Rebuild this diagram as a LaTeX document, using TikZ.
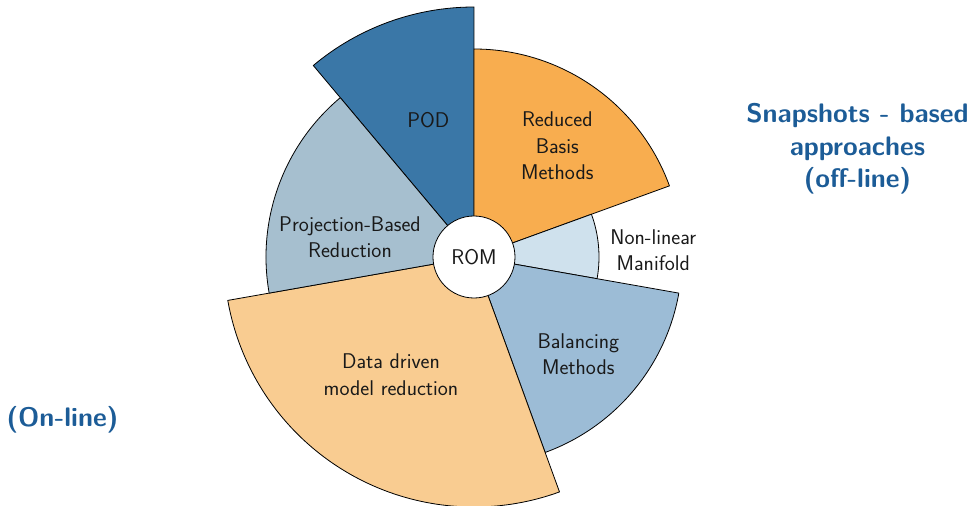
\documentclass[tikz,border=0pt]{standalone}
\usepackage{tikz}
\definecolor{cpod}{HTML}{3A77A7}
\definecolor{crb}{HTML}{F8AD4F}
\definecolor{cnlm}{HTML}{CFE1ED}
\definecolor{cbal}{HTML}{9CBCD6}
\definecolor{cdd}{HTML}{F9CC91}
\definecolor{cpb}{HTML}{A6BFCF}
\definecolor{ctitle}{HTML}{1C5C97}
\tikzset{
  sector/.style={draw=black, line width=0.8pt, line join=round},
  lbl/.style={align=center, font=\sffamily\fontsize{21.3}{26.5}\selectfont, text=black!90, inner sep=0pt},
  side/.style={align=center, font=\sffamily\bfseries\fontsize{26.8}{32.5}\selectfont, text=ctitle, inner sep=0pt}
}
\begin{document}
\begin{tikzpicture}[x=1pt,y=1pt]
\useasboundingbox (-474,-249) rectangle (496,257);
% sectors
\filldraw[sector, fill=cpod] (0,0) -- (90:250) arc (90:130:250) -- cycle;
\filldraw[sector, fill=crb] (0,0) -- (20:208) arc (20:90:208) -- cycle;
\filldraw[sector, fill=cnlm] (0,0) -- (-10:125) arc (-10:20:125) -- cycle;
\filldraw[sector, fill=cbal] (0,0) -- (-70:208) arc (-70:-10:208) -- cycle;
\filldraw[sector, fill=cdd] (0,0) -- (190:250) arc (190:290:250) -- cycle;
\filldraw[sector, fill=cpb] (0,0) -- (130:208) arc (130:190:208) -- cycle;
% labels
\node[lbl] (pod) at (-45.7,137) {POD};
\node[lbl] (rb) at (83.3,111.3) {Reduced\\Basis\\Methods};
\node[lbl] (nlm) at (179.3,7) {Non-linear\\Manifold};
\node[lbl] (bal) at (104.3,-97) {Balancing\\Methods};
\node[lbl] (dd) at (-83,-117.5) {Data driven\\model reduction};
\node[lbl] (pb) at (-124,20) {Projection-Based\\Reduction};
\node[lbl, circle, draw=black, line width=0.8pt, fill=white, minimum size=82pt] (rom) at (0,0) {ROM};
\node[side] (snap) at (383.5,108) {Snapshots - based\\approaches\\(off-line)};
\node[side] (online) at (-411.5,-162.3) {(On-line)};
\end{tikzpicture}
\end{document}
